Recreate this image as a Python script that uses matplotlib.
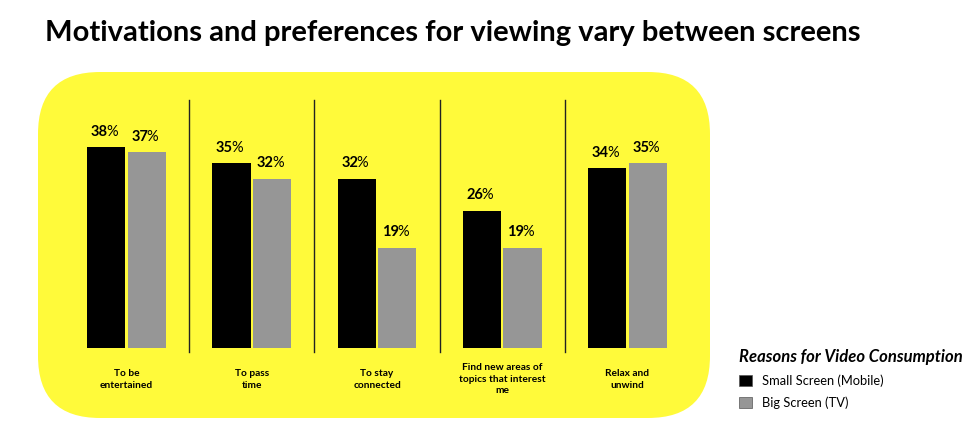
import matplotlib.pyplot as plt
from matplotlib.patches import FancyBboxPatch, Patch
from matplotlib.transforms import IdentityTransform
import numpy as np

plt.rcParams['font.family'] = ['Lato', 'DejaVu Sans']

# data
categories = ["To be\nentertained", "To pass\ntime", "To stay\nconnected",
              "Find new areas of\ntopics that interest\nme", "Relax and\nunwind"]
mobile = [38, 35, 32, 26, 34]
tv = [37, 32, 19, 19, 35]
series_names = ["Small Screen (Mobile)", "Big Screen (TV)"]
series_colors = ["#000000", "#969696"]
bg_yellow = "#FFFA3A"

W, H = 968, 437
fig = plt.figure(figsize=(W / 100, H / 100), dpi=100)

# rounded yellow panel (pixel coords, origin bottom-left)
panel = FancyBboxPatch((38, H - 418), 672, 346, boxstyle="round,pad=0,rounding_size=62",
                       transform=IdentityTransform(), facecolor=bg_yellow,
                       edgecolor="none", zorder=-1)
fig.patches.append(panel)

fig.text(45 / W, 1 - 33 / H, "Motivations and preferences for viewing vary between screens",
         fontsize=21, fontweight="bold", va="center", ha="left")

# axes: x 64..690 px, y 72..348 px
ax = fig.add_axes([64 / W, (H - 348) / H, 626 / W, 276 / H])
ax.set_facecolor("none")
ax.axis("off")

x = np.arange(len(categories))
bw = 0.305
off = 0.162
ax.bar(x - off, mobile, width=bw, color=series_colors[0])
ax.bar(x + off, tv, width=bw, color=series_colors[1])
ax.set_xlim(-0.5, len(categories) - 0.5)
ax.set_ylim(0, 52.2)

# separators
for s in x[:-1] + 0.5:
    ax.axvline(s, ymin=-0.015, ymax=0.9, color="#222222", lw=1, clip_on=False)

# value labels: bold number, regular percent sign
for vals, dx in ((mobile, -off), (tv, off)):
    for xi, v in zip(x, vals):
        t = ax.annotate(f"{v}", xy=(xi + dx, v), xytext=(-5, 6), textcoords="offset points",
                        ha="center", va="bottom", fontsize=10.5, fontweight="bold")
        ax.annotate("%", xy=(1, 0), xycoords=t, xytext=(-1.2, 0), textcoords="offset points",
                    ha="left", va="bottom", fontsize=10.5)

# category labels
for xi, lab in zip(x, categories):
    ax.text(xi, -5.9, lab, ha="center", va="center", fontsize=7.3, fontweight="bold",
            linespacing=1.4)

handles = [Patch(facecolor=c, edgecolor="#555555", lw=0.5) for c in series_colors]
leg = fig.legend(handles, series_names, loc="upper left", bbox_to_anchor=(727 / W, 1 - 337 / H),
                 frameon=False, fontsize=9.3, title="Reasons for Video Consumption",
                 title_fontproperties={"weight": "bold", "style": "italic", "size": 12},
                 alignment="left", handlelength=1.0, handleheight=1.0, handletextpad=0.8,
                 labelspacing=0.75)

fig.savefig("out.png", dpi=100)
